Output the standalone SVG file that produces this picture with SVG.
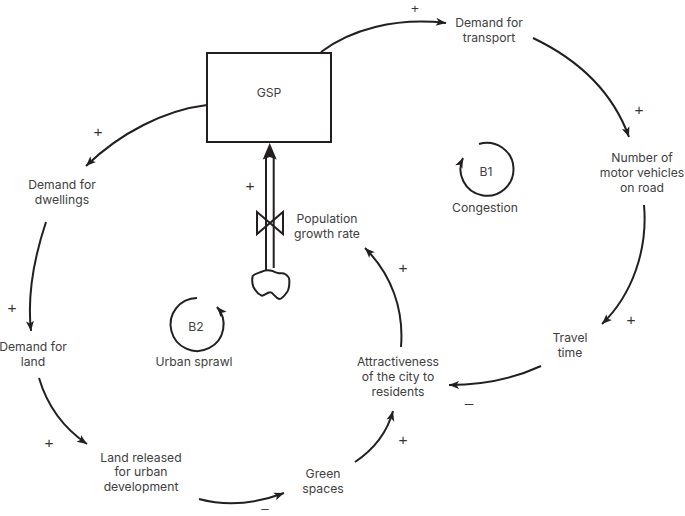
<svg xmlns="http://www.w3.org/2000/svg" width="685" height="516" viewBox="0 0 685 516">
<style>
text{font-family:"Inter","Liberation Sans",sans-serif;font-size:12.2px;fill:#404040;text-anchor:middle}
.c{fill:none;stroke:#231f20;stroke-width:2}
.o{fill:none;stroke:#231f20;stroke-width:2}
.sign{font-family:"Liberation Sans",sans-serif;font-size:15.500px;fill:#333}
.edge{font-family:"Liberation Sans",sans-serif;font-size:13.500px;fill:#333}
#signs{opacity:.99}
</style>
<defs>
<marker id="a" markerUnits="userSpaceOnUse" markerWidth="12" markerHeight="10" refX="10" refY="4.5" orient="auto"><path d="M0 0.500L10 4.500L0 8.500L2.500 4.500Z" fill="#231f20"/></marker>
</defs>
<rect width="685" height="516" fill="#fff"/>
<g id="connectors">
<path class="c" marker-end="url(#a)" d="M321 52C350 30 395 17 446 23"/>
<path class="c" marker-end="url(#a)" d="M533 38C575 58 612 90 629 137"/>
<path class="c" marker-end="url(#a)" d="M644 205C648 250 632 295 602 324"/>
<path class="c" marker-end="url(#a)" d="M541 366C515 378 485 385 449 385"/>
<path class="c" marker-end="url(#a)" d="M401 347C404 310 392 275 365 248"/>
<path class="c" marker-end="url(#a)" d="M355 462C373 450 387 433 393 411"/>
<path class="c" marker-end="url(#a)" d="M199 499C225 506 255 504 284 493"/>
<path class="c" marker-end="url(#a)" d="M39 378C47 405 62 427 87 444"/>
<path class="c" marker-end="url(#a)" d="M46 222C35 255 27 295 31 331"/>
<path class="c" marker-end="url(#a)" d="M207 105C165 110 120 133 86 166"/>
<path class="c" marker-end="url(#a)" d="M479 144A26.500 26.500 0 1 1 463 158"/>
<path class="c" marker-end="url(#a)" d="M197 298A26.500 26.500 0 1 0 217 307"/>
</g>
<g id="gsp"><rect class="o" x="207" y="53" width="124" height="89"/><text x="269" y="97">GSP</text></g>
<g id="flow">
<path class="o" d="M266 270V156M273.700 268V156"/>
<path d="M269.700 143L262.700 159.500L269.700 157L276.700 159.500Z" fill="#231f20"/>
<path class="o" d="M257 212L283 234V212L257 234Z"/>
<path class="o" d="M261.700 271.700C265 270 269 270 271.700 270.700C274 272 276 273 279 273.300C282 273 284 273 285 274C288 276 289.300 278 289.300 280C289.500 285 289 289 287.300 291.700C285 295 282 299 279.300 299C275 298 273 292 270 292.300C267 292.500 264 296 261.700 295.700C258 294 255 290 253.300 286.700C252 283 252 279 252.700 276C254 274 258 273 261.700 271.700Z"/>
</g>
<g id="transport"><text x="489" y="27">Demand for</text><text x="489" y="42">transport</text></g>
<g id="vehicles"><text x="642" y="162">Number of</text><text x="642" y="177">motor vehicles</text><text x="642" y="192">on road</text></g>
<g id="travel"><text x="570" y="342">Travel</text><text x="570" y="357">time</text></g>
<g id="attract"><text x="398" y="366">Attractiveness</text><text x="398" y="381">of the city to</text><text x="398" y="396">residents</text></g>
<g id="green"><text x="323" y="478">Green</text><text x="323" y="493">spaces</text></g>
<g id="land-rel"><text x="141" y="462">Land released</text><text x="141" y="476">for urban</text><text x="141" y="491">development</text></g>
<g id="land"><text x="33" y="351">Demand for</text><text x="33" y="366">land</text></g>
<g id="dwell"><text x="62" y="189">Demand for</text><text x="62" y="204">dwellings</text></g>
<g id="pop"><text x="327" y="223">Population</text><text x="327" y="238">growth rate</text></g>
<g id="b1"><text x="486" y="176">B1</text><text x="485" y="212">Congestion</text></g>
<g id="b2"><text x="196" y="331">B2</text><text x="194" y="366">Urban sprawl</text></g>
<g id="signs">
<text class="edge" x="415" y="12.500">+</text><text class="sign" x="639" y="114.500">+</text><text class="sign" x="631" y="324.500">+</text><text class="sign" x="469" y="407.500">–</text><text class="sign" x="403" y="272.500">+</text><text class="sign" x="403" y="444.500">+</text><text class="edge" x="265" y="513">–</text><text class="sign" x="49" y="447.500">+</text><text class="sign" x="12" y="312.500">+</text><text class="sign" x="98" y="136.500">+</text><text class="sign" x="250" y="190.500">+</text>
</g>
</svg>
